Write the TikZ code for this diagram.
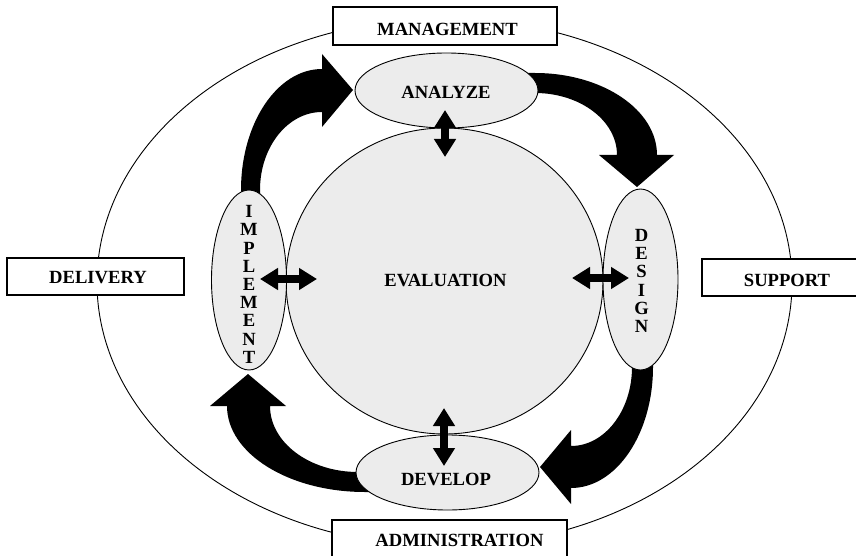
\documentclass[tikz,border=0pt]{standalone}
\usepackage{fontspec}
\setmainfont{Liberation Serif}
\usetikzlibrary{arrows.meta,shapes.geometric,calc}
\definecolor{lightfill}{RGB}{236,236,236}
\begin{document}
\begin{tikzpicture}[x=1pt,y=-1pt,
  txt/.style={font=\fontsize{18.6}{18.2}\selectfont\bfseries, inner sep=0pt, align=center},
  box/.style={draw, line width=1.1pt, fill=white, rectangle, inner sep=0pt, outer sep=0pt},
  oval/.style={draw, line width=0.9pt, fill=lightfill, ellipse, inner sep=0pt, outer sep=0pt},
  dbl/.style={line width=8.5pt, {Triangle[width=21pt,length=18pt]}-{Triangle[width=21pt,length=18pt]}},
  bigarrow/.style={fill=black}
]
\useasboundingbox (0,0) rectangle (856,556);
\clip (0,0) rectangle (856,556);

% outer ellipse
\node[draw, ellipse, line width=0.9pt, inner sep=0pt, outer sep=0pt,
      minimum width=695pt, minimum height=528pt] (outer) at (444.5,282.5) {};

% boxes
\node[box, minimum width=224pt, minimum height=38pt,
      label={[txt, name=managementtext, xshift=2.5pt, yshift=-3pt]center:MANAGEMENT}] (management) at (445,26) {};
\node[box, minimum width=177pt, minimum height=37pt,
      label={[txt, name=deliverytext, xshift=2.5pt, yshift=-1.5pt]center:DELIVERY}] (delivery) at (95.5,276.5) {};
\node[box, minimum width=170pt, minimum height=37pt,
      label={[txt, name=supporttext, yshift=-2.5pt]center:SUPPORT}] (support) at (787,277.5) {};
\node[box, minimum width=235pt, minimum height=38pt,
      label={[txt, name=admintext, xshift=10pt, yshift=-1pt]center:ADMINISTRATION}] (admin) at (449.5,539) {};

% big curved arrows
\fill[bigarrow] (260,200) -- (241,200) -- (241,190)
  arc[start angle=180, end angle=270, x radius=81, y radius=121]
  -- (322,54) -- (353,90) -- (322,127) -- (322,112)
  arc[start angle=270, end angle=180, x radius=62, y radius=78] -- cycle;
\fill[bigarrow] (520,93) -- (520,73) -- (535,73)
  arc[start angle=270, end angle=360, x radius=122, y radius=82]
  -- (674,155) -- (637,187) -- (599,155) -- (617,155)
  arc[start angle=0, end angle=-90, x radius=82, y radius=62] -- cycle;
\fill[bigarrow] (632,355) -- (653,355) -- (653,367)
  arc[start angle=0, end angle=90, x radius=82, y radius=121]
  -- (571,504) -- (540,467) -- (571,430) -- (571,446)
  arc[start angle=90, end angle=0, x radius=61, y radius=79] -- cycle;
\fill[bigarrow] (375,472) -- (358,472)
  arc[start angle=90, end angle=180, x radius=88, y radius=66]
  -- (286,406) -- (248,374) -- (210,406) -- (227,406)
  arc[start angle=180, end angle=90, x radius=138, y radius=86]
  -- (375,492) -- cycle;

% central circle and phase ellipses
\node[oval, minimum width=317pt, minimum height=306pt,
      label={[txt, name=evaltext, xshift=1pt, yshift=1pt]center:EVALUATION}] (eval) at (444.5,281) {};
\node[oval, minimum width=183pt, minimum height=75pt,
      label={[txt, name=analyzetext, xshift=-0.5pt, yshift=-2pt]center:ANALYZE}] (analyze) at (446.5,90.5) {};
\node[oval, minimum width=183pt, minimum height=75pt,
      label={[txt, name=developtext, xshift=-1.5pt, yshift=-6.5pt]center:DEVELOP}] (develop) at (447.5,472.5) {};
\node[oval, minimum width=75pt, minimum height=180pt,
      label={[txt, name=implementtext, yshift=-4.5pt]center:I\\M\\P\\L\\E\\M\\E\\N\\T}] (implement) at (249,280) {};
\node[oval, minimum width=75pt, minimum height=181pt,
      label={[txt, name=designtext, xshift=1pt, yshift=-1.5pt]center:D\\E\\S\\I\\G\\N}] (design) at (640.5,279.5) {};

% double arrows
\draw[dbl] ($(analyze.center)+(-1.5,19.5)$) -- ($(eval.north)+(0.5,29)$);
\draw[dbl] ($(eval.south)+(-0.5,-26)$) -- ($(develop.center)+(-3.5,-6.5)$);
\draw[dbl] ($(implement.center)+(11,-1)$) -- ($(eval.west)+(31,-2)$);
\draw[dbl] ($(eval.east)+(-31,-3)$) -- ($(design.center)+(-11.5,-1.5)$);
\end{tikzpicture}
\end{document}
